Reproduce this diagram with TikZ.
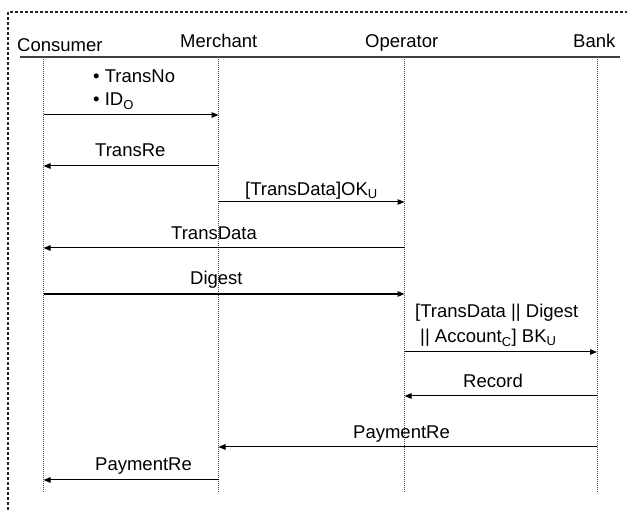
\documentclass[tikz,border=0pt]{standalone}
\usepackage{fontspec}
\setmainfont{Liberation Sans}
\usetikzlibrary{arrows.meta}
\tikzset{
  lbl/.style={anchor=base west, inner sep=0pt, font=\fontsize{18.5}{22}\selectfont},
  msg/.style={line width=1pt, -{Triangle[length=7pt,width=5.5pt]}},
  life/.style={line width=0.7pt, gray!60!black, dash pattern=on 1pt off 1pt},
  frame/.style={line width=1.2pt, black!85, dash pattern=on 3pt off 2pt},
  head/.style={line width=1.6pt, black!75}
}
\begin{document}
\begin{tikzpicture}[x=1pt, y=-1pt]
\useasboundingbox (0,0) rectangle (627,510);
% frame
\draw[frame] (8,510) -- (8,12) -- (627,12);
% header
\node[lbl] (hC) at (17,52) {Consumer};
\node[lbl] (hM) at (180,48) {Merchant};
\node[lbl] (hO) at (365,48) {Operator};
\node[lbl] (hB) at (573,48) {Bank};
\coordinate (hl) at (20,57);
\coordinate (hr) at (620,57);
\draw[head] (hl) -- (hr);
% lifelines
\coordinate (C) at (43.5,57);  \coordinate (Ce) at (43.5,492);
\coordinate (M) at (218.5,57); \coordinate (Me) at (218.5,492);
\coordinate (O) at (404.5,57); \coordinate (Oe) at (404.5,492);
\coordinate (B) at (597,57);   \coordinate (Be) at (597,492);
\draw[life] (C) -- (Ce);
\draw[life] (M) -- (Me);
\draw[life] (O) -- (Oe);
\draw[life] (B) -- (Be);
% messages
\node[lbl] (t1a) at (93,83) {\textbullet\ TransNo};
\node[lbl] (t1b) at (93,106) {\textbullet\ ID\textsubscript{O}};
\draw[msg] (C |- 0,115) -- (M |- 0,115);

\node[lbl] (t2) at (95,157) {TransRe};
\draw[msg] (M |- 0,166) -- (C |- 0,166);

\node[lbl] (t3) at (245,196) {[TransData]OK\textsubscript{U}};
\draw[msg] (M |- 0,202) -- (O |- 0,202);

\node[lbl] (t4) at (171,240) {TransData};
\draw[msg] (O |- 0,248) -- (C |- 0,248);

\node[lbl] (t5) at (190,285) {Digest};
\draw[msg, line width=1.3pt] (C |- 0,294) -- (O |- 0,294);

\node[lbl] (t6a) at (415,318) {[TransData || Digest};
\node[lbl] (t6b) at (420,343) {|| Account\textsubscript{C}] BK\textsubscript{U}};
\draw[msg] (O |- 0,352) -- (B |- 0,352);

\node[lbl] (t7) at (463,388) {Record};
\draw[msg] (B |- 0,396) -- (O |- 0,396);

\node[lbl] (t8) at (353,439) {PaymentRe};
\draw[msg] (B |- 0,447) -- (M |- 0,447);

\node[lbl] (t9) at (95,471) {PaymentRe};
\draw[msg] (M |- 0,480) -- (C |- 0,480);
\end{tikzpicture}
\end{document}
